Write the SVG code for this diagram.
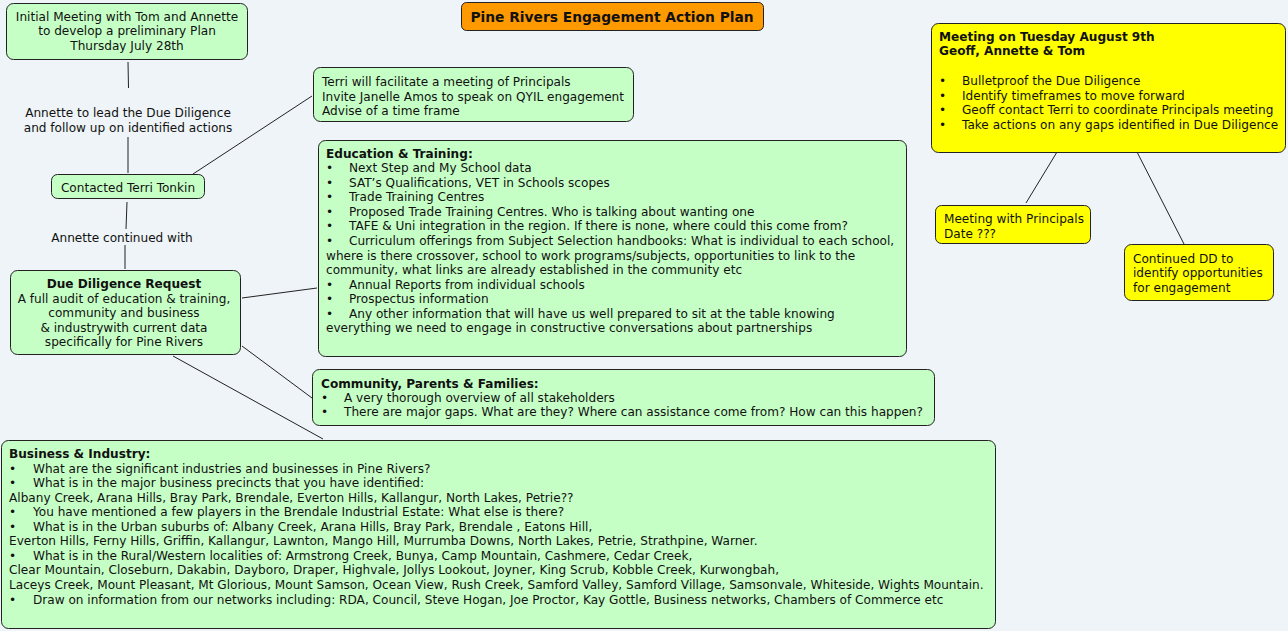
<svg xmlns="http://www.w3.org/2000/svg" width="1288" height="631" viewBox="0 0 1288 631">
<style>
text{font-family:"DejaVu Sans","Verdana",sans-serif;font-size:12.1px;fill:#111}
.g{fill:#C6FFC6;stroke:#222;stroke-width:1}
.y{fill:#FFFF00;stroke:#222;stroke-width:1}
.o{fill:#FF9900;stroke:#222;stroke-width:1}
.b{font-weight:bold}
.c{text-anchor:middle}
.l{stroke:#222;stroke-width:1;fill:none}
</style>
<rect width="1288" height="631" fill="#EEF4F7"/>
<g id="connectors">
<line class="l" x1="128" y1="62" x2="128.5" y2="88"/>
<line class="l" x1="128" y1="137" x2="128" y2="173"/>
<line class="l" x1="193" y1="174" x2="312" y2="96"/>
<line class="l" x1="127" y1="202" x2="126" y2="229"/>
<line class="l" x1="125" y1="245" x2="125" y2="269"/>
<line class="l" x1="242" y1="298" x2="317" y2="288"/>
<line class="l" x1="242" y1="346" x2="312" y2="398"/>
<line class="l" x1="173" y1="356" x2="323" y2="439"/>
<line class="l" x1="1057" y1="152" x2="1026" y2="203"/>
<line class="l" x1="1137" y1="152" x2="1184" y2="244"/>
<text class="c" x="128" y="117">Annette to lead the Due Diligence</text>
<text class="c" x="128" y="132">and follow up on identified actions</text>
<text class="c" x="122" y="242">Annette continued with</text>
</g>
<g id="title">
<rect class="o" x="461.5" y="2.5" width="302" height="28" rx="5"/>
<text class="b c" x="612" y="22" style="font-size:13.8px">Pine Rivers Engagement Action Plan</text>
</g>
<g id="initial">
<rect class="g" x="6.5" y="3.5" width="241" height="56" rx="7"/>
<text class="c" x="127" y="21">Initial Meeting with Tom and Annette</text>
<text class="c" x="127" y="35">to develop a preliminary Plan</text>
<text class="c" x="127" y="50">Thursday July 28th</text>
</g>
<g id="contacted">
<rect class="g" x="51.5" y="174.5" width="153" height="24" rx="6"/>
<text class="c" x="128" y="192">Contacted Terri Tonkin</text>
</g>
<g id="terri">
<rect class="g" x="313.5" y="67.5" width="320" height="54" rx="7"/>
<text x="322" y="86">Terri will facilitate a meeting of Principals</text>
<text x="322" y="101">Invite Janelle Amos to speak on QYIL engagement</text>
<text x="322" y="115">Advise of a time frame</text>
</g>
<g id="duediligence">
<rect class="g" x="10.5" y="270.5" width="230" height="84" rx="7"/>
<text class="b c" x="124" y="288">Due Diligence Request</text>
<text class="c" x="124" y="303">A full audit of education &amp; training,</text>
<text class="c" x="124" y="317">community and business</text>
<text class="c" x="124" y="332"> &amp; industrywith current data</text>
<text class="c" x="124" y="346">specifically for Pine Rivers</text>
</g>
<g id="education">
<rect class="g" x="318.5" y="140.5" width="588" height="216" rx="7"/>
<text class="b" x="326" y="158">Education &amp; Training:</text>
<text x="326" y="172">•<tspan x="349">Next Step and My School data</tspan></text>
<text x="326" y="187">•<tspan x="349">SAT’s Qualifications, VET in Schools scopes</tspan></text>
<text x="326" y="201">•<tspan x="349">Trade Training Centres</tspan></text>
<text x="326" y="216">•<tspan x="349">Proposed Trade Training Centres. Who is talking about wanting one</tspan></text>
<text x="326" y="230">•<tspan x="349">TAFE &amp; Uni integration in the region. If there is none, where could this come from?</tspan></text>
<text x="326" y="245">•<tspan x="349">Curriculum offerings from Subject Selection handbooks: What is individual to each school,</tspan></text>
<text x="326" y="260">where is there crossover, school to work programs/subjects, opportunities to link to the</text>
<text x="326" y="274">community, what links are already established in the community etc</text>
<text x="326" y="289">•<tspan x="349">Annual Reports from individual schools</tspan></text>
<text x="326" y="303">•<tspan x="349">Prospectus information</tspan></text>
<text x="326" y="318">•<tspan x="349">Any other information that will have us well prepared to sit at the table knowing</tspan></text>
<text x="326" y="332">everything we need to engage in constructive conversations about partnerships</text>
</g>
<g id="community">
<rect class="g" x="312.5" y="369.5" width="622" height="56" rx="7"/>
<text class="b" x="321" y="388">Community, Parents &amp; Families:</text>
<text x="321" y="402">•<tspan x="344">A very thorough overview of all stakeholders</tspan></text>
<text x="321" y="416">•<tspan x="344">There are major gaps. What are they? Where can assistance come from? How can this happen?</tspan></text>
</g>
<g id="business">
<rect class="g" x="1.5" y="440.5" width="994" height="188" rx="7"/>
<text class="b" x="9" y="458">Business &amp; Industry:</text>
<text x="9" y="473">•<tspan x="33">What are the significant industries and businesses in Pine Rivers?</tspan></text>
<text x="9" y="487">•<tspan x="33">What is in the major business precincts that you have identified:</tspan></text>
<text x="9" y="502">Albany Creek, Arana Hills, Bray Park, Brendale, Everton Hills, Kallangur, North Lakes, Petrie??</text>
<text x="9" y="516">•<tspan x="33">You have mentioned a few players in the Brendale Industrial Estate: What else is there?</tspan></text>
<text x="9" y="531">•<tspan x="33">What is in the Urban suburbs of: Albany Creek, Arana Hills, Bray Park, Brendale , Eatons Hill,</tspan></text>
<text x="9" y="545">Everton Hills, Ferny Hills, Griffin, Kallangur, Lawnton, Mango Hill, Murrumba Downs, North Lakes, Petrie, Strathpine, Warner.</text>
<text x="9" y="560">•<tspan x="33">What is in the Rural/Western localities of: Armstrong Creek, Bunya, Camp Mountain, Cashmere, Cedar Creek,</tspan></text>
<text x="9" y="574">Clear Mountain, Closeburn, Dakabin, Dayboro, Draper, Highvale, Jollys Lookout, Joyner, King Scrub, Kobble Creek, Kurwongbah,</text>
<text x="9" y="589">Laceys Creek, Mount Pleasant, Mt Glorious, Mount Samson, Ocean View, Rush Creek, Samford Valley, Samford Village, Samsonvale, Whiteside, Wights Mountain.</text>
<text x="9" y="604">•<tspan x="33">Draw on information from our networks including: RDA, Council, Steve Hogan, Joe Proctor, Kay Gottle, Business networks, Chambers of Commerce etc</tspan></text>
</g>
<g id="meeting-aug">
<rect class="y" x="931.5" y="23.5" width="354" height="129" rx="7"/>
<text class="b" x="939" y="41">Meeting on Tuesday August 9th</text>
<text class="b" x="939" y="55">Geoff, Annette &amp; Tom</text>
<text x="939" y="85">•<tspan x="962">Bulletproof the Due Diligence</tspan></text>
<text x="939" y="100">•<tspan x="962">Identify timeframes to move forward</tspan></text>
<text x="939" y="114">•<tspan x="962">Geoff contact Terri to coordinate Principals meeting</tspan></text>
<text x="939" y="129">•<tspan x="962">Take actions on any gaps identified in Due Diligence</tspan></text>
</g>
<g id="principals">
<rect class="y" x="935.5" y="205.5" width="155" height="38" rx="6"/>
<text x="944" y="223">Meeting with Principals</text>
<text x="944" y="238">Date ???</text>
</g>
<g id="continued">
<rect class="y" x="1124.5" y="244.5" width="149" height="56" rx="7"/>
<text x="1133" y="263">Continued DD to</text>
<text x="1133" y="277">identify opportunities</text>
<text x="1133" y="292">for engagement</text>
</g>
</svg>
